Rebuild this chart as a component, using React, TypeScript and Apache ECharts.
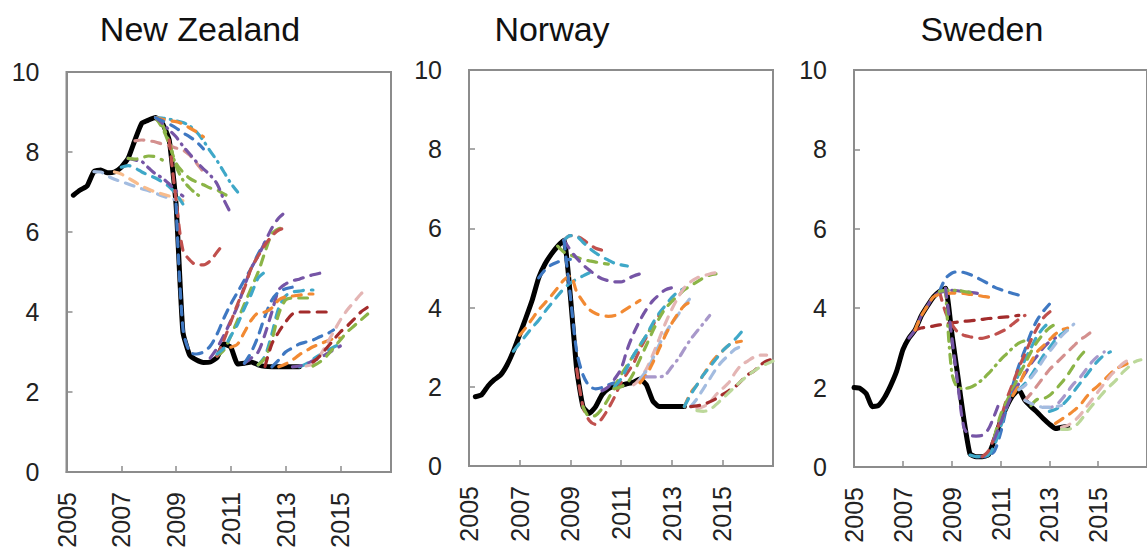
import React, { useEffect, useRef } from "react";
import * as echarts from "echarts";

// ---------------- DATA ----------------
const panelTitles = ["New Zealand", "Norway", "Sweden"];
const yearTicks = [2005, 2007, 2009, 2011, 2013, 2015];

// Actual policy rates (quarterly, starting at *From)
const nzActualFrom = 2005.25;
const nzActual = [6.92, 7.05, 7.15, 7.51, 7.55, 7.48, 7.5, 7.62, 7.84, 8.3, 8.72, 8.8, 8.86, 8.72, 8.3, 6.7, 3.5, 2.92, 2.8, 2.74, 2.75, 2.86, 3.2, 3.12, 2.7, 2.72, 2.75, 2.68, 2.64, 2.63, 2.63, 2.63, 2.63, 2.63];

const noActualFrom = 2005.25;
const noActual = [1.75, 1.8, 2.02, 2.18, 2.3, 2.55, 2.9, 3.32, 3.75, 4.2, 4.75, 5.1, 5.35, 5.55, 5.7, 4.3, 2.45, 1.5, 1.33, 1.5, 1.8, 1.95, 2.02, 2.04, 2.08, 2.12, 2.2, 2.05, 1.65, 1.5, 1.5, 1.5, 1.5, 1.5];

const seActualFrom = 2005.0;
const seActual = [2.0, 1.98, 1.85, 1.52, 1.55, 1.75, 2.05, 2.42, 2.95, 3.25, 3.45, 3.8, 4.05, 4.28, 4.42, 4.5, 3.4, 2.3, 1.2, 0.33, 0.26, 0.26, 0.3, 0.68, 1.15, 1.52, 1.8, 1.95, 1.68, 1.52, 1.38, 1.22, 1.08, 0.97, 1.0, 1.02];

// Forecast paths (quarterly values from 'from')
const nzForecasts = [
  { from: 2006.0, values: [7.51, 7.5, 7.4, 7.32, 7.26, 7.2, 7.14, 7.08, 7.03, 6.97, 6.9, 6.85, 6.8] },
  { from: 2006.75, values: [7.5, 7.45, 7.35, 7.25, 7.15, 7.07, 7.0, 6.95, 6.9, 6.85, 6.78] },
  { from: 2007.0, values: [7.62, 7.66, 7.6, 7.5, 7.42, 7.35, 7.25, 7.13, 6.95, 6.7] },
  { from: 2007.25, values: [7.84, 7.8, 7.76, 7.6, 7.45, 7.35, 7.2, 7.03, 6.9] },
  { from: 2007.25, values: [7.84, 7.82, 7.86, 7.9, 7.88, 7.8] },
  { from: 2007.5, values: [8.28, 8.3, 8.28, 8.25, 8.2, 8.16, 8.1, 8.05, 7.92, 7.72, 7.5] },
  { from: 2008.25, values: [8.86, 8.6, 8.2, 7.72, 7.5, 7.34, 7.25, 7.18, 7.1, 7.05, 6.95, 6.87] },
  { from: 2008.5, values: [8.7, 8.25, 7.65, 7.3, 7.1, 6.95, 6.84] },
  { from: 2008.25, values: [8.86, 8.72, 8.55, 8.38, 8.15, 7.95, 7.75, 7.58, 7.42, 7.2, 6.8, 6.47] },
  { from: 2008.25, values: [8.86, 8.85, 8.82, 8.78, 8.74, 8.65, 8.5, 8.28, 8.02, 7.78, 7.5, 7.22, 7.0] },
  { from: 2008.25, values: [8.86, 8.82, 8.78, 8.76, 8.7, 8.6, 8.5, 8.38] },
  { from: 2008.25, values: [8.86, 8.78, 8.7, 8.6, 8.48, 8.38, 8.25, 8.08] },
  { from: 2008.75, values: [8.3, 6.8, 5.55, 5.3, 5.18, 5.18, 5.28, 5.5, 5.72] },
  { from: 2009.0, values: [6.7, 3.6, 3.0, 2.95, 3.0, 3.15, 3.45, 3.85, 4.2, 4.5, 4.8, 5.1, 5.45, 5.75] },
  { from: 2010.25, values: [2.85, 3.1, 3.42, 3.78, 4.15, 4.65, 5.1, 5.4, 5.75, 6.1, 6.35, 6.5] },
  { from: 2010.5, values: [2.9, 3.05, 3.4, 3.8, 4.2, 4.6, 5.0, 5.5, 5.95, 6.08, 6.1] },
  { from: 2010.5, values: [2.9, 3.3, 3.75, 4.2, 4.6, 5.1, 5.4, 5.68, 5.9, 6.05, 6.1] },
  { from: 2010.5, values: [2.95, 3.1, 3.4, 3.7, 4.1, 4.45, 4.85, 5.0] },
  { from: 2011.5, values: [2.72, 2.85, 3.0, 3.45, 4.0, 4.55, 4.7, 4.78, 4.82, 4.88, 4.93, 4.97] },
  { from: 2011.5, values: [2.72, 3.0, 3.4, 3.9, 4.3, 4.5, 4.58, 4.62, 4.63] },
  { from: 2012.0, values: [2.68, 2.9, 3.45, 4.1, 4.4, 4.5, 4.52, 4.55, 4.55] },
  { from: 2012.0, values: [2.68, 2.85, 3.3, 3.95, 4.3, 4.35, 4.35, 4.35, 4.35] },
  { from: 2011.0, values: [3.12, 3.2, 3.5, 3.8, 3.98, 4.0, 4.1, 4.3, 4.38, 4.4, 4.42, 4.45, 4.45] },
  { from: 2012.25, values: [2.64, 3.2, 3.5, 3.75, 3.95, 4.0, 4.0, 4.0, 4.0, 4.0, 4.0] },
  { from: 2012.5, values: [2.63, 2.8, 3.0, 3.1, 3.2, 3.25, 3.3, 3.38, 3.45, 3.55] },
  { from: 2012.75, values: [2.63, 2.7, 2.8, 2.93, 3.03, 3.13, 3.2, 3.27, 3.33, 3.35] },
  { from: 2013.5, values: [2.63, 2.7, 2.82, 2.93, 3.03, 3.12, 3.2] },
  { from: 2013.25, values: [2.63, 2.65, 2.7, 2.78, 2.85, 2.95, 3.05, 3.15] },
  { from: 2013.75, values: [2.65, 2.7, 2.9, 3.2, 3.5, 3.8, 4.05, 4.25, 4.45, 4.6] },
  { from: 2014.0, values: [2.75, 2.9, 3.1, 3.3, 3.5, 3.65, 3.82, 4.0, 4.12] },
  { from: 2014.0, values: [2.65, 2.75, 2.9, 3.1, 3.3, 3.5, 3.65, 3.8, 3.95] },
];
const nzHues = ["lblue", "lorange", "cyan", "purple", "green", "salmon", "green", "green", "purple", "cyan", "orange", "blue", "red", "blue", "purple", "green", "red", "cyan", "purple", "blue", "cyan", "green", "orange", "darkred", "blue", "orange", "cyan", "purple", "lpink", "darkred", "green"];
const nzDashDot = [3, 7, 8, 9];

const noForecasts = [
  { from: 2006.75, values: [2.9, 3.1, 3.3, 3.5, 3.68, 3.9, 4.1, 4.3, 4.48, 4.62, 4.72, 4.8, 4.88] },
  { from: 2007.0, values: [3.3, 3.5, 3.72, 3.94, 4.12, 4.3, 4.5, 4.7, 4.8, 4.4, 4.15, 3.95, 3.85, 3.8, 3.78, 3.8, 3.88, 3.98, 4.08, 4.18] },
  { from: 2007.75, values: [4.75, 4.95, 5.08, 5.15, 5.2, 5.22] },
  { from: 2008.5, values: [5.55, 5.4, 5.33, 5.27, 5.22, 5.18, 5.15, 5.12, 5.1] },
  { from: 2008.75, values: [5.7, 5.45, 5.25, 5.08, 4.95, 4.82, 4.73, 4.68, 4.65, 4.65, 4.72, 4.8, 4.85] },
  { from: 2008.75, values: [5.7, 5.82, 5.8, 5.72, 5.6, 5.5, 5.45, 5.4] },
  { from: 2008.75, values: [5.7, 5.82, 5.8, 5.65, 5.5, 5.38, 5.28, 5.2, 5.12, 5.08, 5.05] },
  { from: 2008.75, values: [5.7, 4.3, 2.9, 2.3, 2.02, 1.95, 1.98, 2.05, 2.1] },
  { from: 2009.25, values: [2.45, 1.5, 1.15, 1.05, 1.2, 1.45, 1.75, 2.1, 2.35, 2.6, 2.95, 3.25, 3.55, 3.8] },
  { from: 2009.5, values: [1.5, 1.25, 1.28, 1.45, 1.7, 2.0, 2.3, 2.55, 2.8, 3.05, 3.3, 3.55] },
  { from: 2010.25, values: [1.9, 2.0, 2.2, 2.45, 2.95, 3.35, 3.68, 3.95, 4.17, 4.32, 4.45, 4.5] },
  { from: 2010.75, values: [2.0, 2.2, 2.5, 2.8, 3.05, 3.3, 3.6, 3.85, 4.05, 4.25, 4.4, 4.48] },
  { from: 2010.75, values: [1.95, 2.0, 2.1, 2.35, 2.7, 3.05, 3.4, 3.72, 3.98, 4.15, 4.3, 4.45, 4.55, 4.65, 4.75, 4.82, 4.85] },
  { from: 2011.5, values: [2.05, 2.2, 2.45, 2.8, 3.2, 3.6, 3.95, 4.25, 4.5, 4.65, 4.75, 4.8, 4.85, 4.88] },
  { from: 2011.75, values: [2.2, 2.4, 2.7, 3.05, 3.35, 3.6, 3.82, 4.05, 4.25] },
  { from: 2011.75, values: [2.1, 2.3, 2.6, 2.95, 3.3, 3.6, 3.85, 4.05, 4.15] },
  { from: 2012.0, values: [2.25, 2.25, 2.25, 2.3, 2.5, 2.7, 2.95, 3.2, 3.4, 3.6, 3.8] },
  { from: 2013.5, values: [1.5, 1.85, 2.05, 2.3, 2.55, 2.75, 2.9, 3.05, 3.12, 3.15] },
  { from: 2013.5, values: [1.5, 1.8, 2.05, 2.3, 2.5, 2.7, 2.9, 3.05, 3.2, 3.38] },
  { from: 2013.75, values: [1.5, 1.7, 1.95, 2.2, 2.45, 2.65, 2.8, 2.95, 3.02] },
  { from: 2014.0, values: [1.45, 1.5, 1.6, 1.8, 1.95, 2.1, 2.35, 2.55, 2.65, 2.75, 2.8, 2.8] },
  { from: 2013.75, values: [1.5, 1.52, 1.55, 1.62, 1.7, 1.8, 1.9, 2.0, 2.15, 2.3, 2.4, 2.55, 2.65, 2.7] },
  { from: 2014.0, values: [1.4, 1.38, 1.42, 1.55, 1.7, 1.85, 2.0, 2.15, 2.28, 2.4, 2.5, 2.58, 2.65] },
];
const noHues = ["cyan", "orange", "blue", "green", "purple", "red", "cyan", "blue", "red", "green", "purple", "cyan", "green", "lpink", "lblue", "orange", "lpurple", "orange", "cyan", "lblue", "lpink", "darkred", "lgreen"];
const noDashDot = [16];

const seForecasts = [
  { from: 2007.5, values: [3.45, 3.5, 3.52, 3.55, 3.58, 3.6, 3.63, 3.65, 3.67, 3.68, 3.7, 3.72, 3.74, 3.75, 3.77, 3.78, 3.8, 3.82] },
  { from: 2008.5, values: [4.42, 3.9, 3.6, 3.4, 3.32, 3.28, 3.25, 3.24, 3.28, 3.33, 3.4, 3.48, 3.6, 3.72, 3.82] },
  { from: 2008.5, values: [4.42, 4.75, 4.88, 4.92, 4.9, 4.85, 4.78, 4.7, 4.62, 4.53, 4.47, 4.42, 4.37, 4.33] },
  { from: 2007.25, values: [3.25, 3.45, 3.8, 4.05, 4.28, 4.4, 4.42, 4.45, 4.44, 4.42, 4.4, 4.38, 4.35] },
  { from: 2007.5, values: [3.45, 3.8, 4.05, 4.28, 4.35, 4.37, 4.38, 4.38, 4.37, 4.35, 4.33, 4.3, 4.28, 4.25] },
  { from: 2008.5, values: [4.42, 4.45, 4.45, 4.45, 4.42, 4.4, 4.38] },
  { from: 2008.75, values: [4.5, 2.4, 2.0, 1.98, 2.0, 2.08, 2.2, 2.35, 2.52, 2.7, 2.85, 3.0, 3.12, 3.18] },
  { from: 2008.75, values: [4.5, 3.3, 2.1, 1.0, 0.8, 0.78, 0.8, 0.95, 1.3, 1.7] },
  { from: 2010.0, values: [0.26, 0.26, 0.28, 0.4, 0.85, 1.5, 2.05, 2.55, 2.95, 3.38, 3.7, 3.92, 4.1] },
  { from: 2009.75, values: [0.3, 0.26, 0.26, 0.3, 0.55, 1.0, 1.5, 1.95, 2.35, 2.7, 3.0, 3.3, 3.5, 3.65] },
  { from: 2010.25, values: [0.26, 0.4, 0.75, 1.2, 1.7, 2.1, 2.5, 2.85, 3.2, 3.5, 3.75, 3.9, 3.98] },
  { from: 2010.75, values: [0.75, 1.3, 1.65, 1.95, 2.3, 2.6, 2.9, 3.15, 3.35, 3.5, 3.6] },
  { from: 2010.75, values: [0.7, 1.1, 1.5, 1.85, 2.1, 2.35, 2.6, 2.8, 3.0, 3.15, 3.25] },
  { from: 2011.5, values: [1.8, 2.05, 2.4, 2.65, 2.9, 3.05, 3.2, 3.35, 3.45, 3.5] },
  { from: 2011.75, values: [1.95, 2.1, 2.3, 2.55, 2.8, 3.0, 3.2, 3.35, 3.45] },
  { from: 2011.75, values: [1.95, 2.05, 2.25, 2.45, 2.7, 2.9, 3.1, 3.3, 3.45, 3.6] },
  { from: 2012.0, values: [1.68, 1.85, 2.05, 2.25, 2.45, 2.6, 2.75, 2.9, 3.05, 3.2, 3.3, 3.42] },
  { from: 2012.25, values: [1.55, 1.7, 1.72, 1.8, 1.95, 2.12, 2.32, 2.55, 2.78, 2.95] },
  { from: 2012.75, values: [1.5, 1.5, 1.55, 1.7, 1.9, 2.1, 2.25, 2.45, 2.65, 2.8, 2.9] },
  { from: 2013.0, values: [1.4, 1.45, 1.55, 1.7, 1.9, 2.1, 2.3, 2.5, 2.68, 2.82, 2.9] },
  { from: 2013.25, values: [1.1, 1.2, 1.3, 1.42, 1.55, 1.75, 1.92, 2.05, 2.2, 2.35, 2.48, 2.55, 2.62] },
  { from: 2013.5, values: [1.0, 1.05, 1.15, 1.3, 1.5, 1.7, 1.9, 2.1, 2.3, 2.45, 2.6, 2.7] },
  { from: 2013.5, values: [0.95, 0.95, 1.0, 1.15, 1.35, 1.55, 1.72, 1.9, 2.05, 2.2, 2.38, 2.52, 2.65, 2.7] },
  { from: 2012.0, values: [1.68, 1.6, 1.55, 1.5, 1.5, 1.52, 1.55] },
];
const seHues = ["darkred", "red", "blue", "purple", "orange", "green", "green", "purple", "blue", "cyan", "red", "green", "purple", "orange", "cyan", "lblue", "salmon", "green", "lpurple", "cyan", "orange", "lpink", "lgreen", "lblue"];
const seDashDot = [5, 6];

// ---------------- STYLE ----------------
const PALETTE: Record<string, string> = {
  blue: "#3F78C2",
  red: "#C0504D",
  darkred: "#A32C2C",
  green: "#8BB447",
  purple: "#7655A6",
  cyan: "#3FA8C8",
  orange: "#F28A33",
  lblue: "#A3BCE0",
  lorange: "#F8BC8C",
  lpink: "#E4B5B4",
  salmon: "#D4908E",
  lgreen: "#BCD89A",
  lpurple: "#A898CA",
};

const GRIDS = [
  { left: 66.5, top: 72, width: 324.5, height: 400, max: 2016.85, titleX: 200 },
  { left: 469, top: 70, width: 304, height: 396, max: 2017, titleX: 552 },
  { left: 854, top: 70, width: 304, height: 397, max: 2017, titleX: 982 },
];

const FONT = "'Liberation Sans', Arial, sans-serif";
const AXIS_COLOR = "#8c8c8c";

function toPoints(from: number, values: number[]) {
  return values.map((v, i) => [from + i * 0.25, v]);
}

export default function App() {
  const ref = useRef<HTMLDivElement>(null);
  useEffect(() => {
    if (!ref.current) return;
    const chart = echarts.init(ref.current, undefined, { renderer: "svg" });

    const panels = [
      { actualFrom: nzActualFrom, actual: nzActual, forecasts: nzForecasts, hues: nzHues, dd: nzDashDot },
      { actualFrom: noActualFrom, actual: noActual, forecasts: noForecasts, hues: noHues, dd: noDashDot },
      { actualFrom: seActualFrom, actual: seActual, forecasts: seForecasts, hues: seHues, dd: seDashDot },
    ];

    const series: any[] = [];
    panels.forEach((p, g) => {
      series.push({
        type: "line",
        xAxisIndex: g,
        yAxisIndex: g,
        data: toPoints(p.actualFrom, p.actual),
        showSymbol: false,
        symbol: "none",
        smooth: 0.15,
        lineStyle: { color: "#000", width: 5, cap: "round", join: "round" },
        z: 2,
        silent: true,
      });
      p.forecasts.forEach((f, i) => {
        series.push({
          type: "line",
          xAxisIndex: g,
          yAxisIndex: g,
          data: toPoints(f.from, f.values),
          showSymbol: false,
          symbol: "none",
          smooth: 0.3,
          lineStyle: {
            color: PALETTE[p.hues[i]],
            width: 3.2,
            type: p.dd.includes(i) ? [9, 6, 1, 6] : [9, 8],
            cap: "round",
          },
          z: 3,
          silent: true,
        });
      });
    });

    const option: any = {
      animation: false,
      title: panelTitles.map((t, i) => ({
        text: t,
        left: GRIDS[i].titleX,
        top: 12,
        textAlign: "center",
        padding: 0,
        textStyle: { fontSize: 34, fontWeight: "normal", color: "#111", fontFamily: FONT },
      })),
      grid: GRIDS.map((g) => ({
        left: g.left,
        top: g.top,
        width: g.width,
        height: g.height,
        show: true,
        borderColor: AXIS_COLOR,
        borderWidth: 2,
        containLabel: false,
      })),
      xAxis: GRIDS.map((g, i) => ({
        type: "value",
        gridIndex: i,
        min: 2005,
        max: g.max,
        interval: 2,
        splitLine: { show: false },
        axisLine: { show: true, lineStyle: { color: AXIS_COLOR, width: 2 } },
        axisTick: { show: true, inside: true, length: 6, lineStyle: { color: AXIS_COLOR, width: 1.5 } },
        axisLabel: {
          rotate: 90,
          margin: 20,
          fontSize: 25,
          color: "#222",
          fontFamily: FONT,
          showMaxLabel: false,
          formatter: (v: number) => (yearTicks.includes(Math.round(v * 100) / 100) ? String(v) : ""),
        },
      })),
      yAxis: GRIDS.map((g, i) => ({
        type: "value",
        gridIndex: i,
        min: 0,
        max: 10,
        interval: 2,
        splitLine: { show: false },
        axisLine: { show: true, lineStyle: { color: AXIS_COLOR, width: 2 } },
        axisTick: { show: true, inside: true, length: 6, lineStyle: { color: AXIS_COLOR, width: 1.5 } },
        axisLabel: { margin: 27, fontSize: 25, color: "#222", fontFamily: FONT },
      })),
      series,
    };
    chart.setOption(option);
    return () => chart.dispose();
  }, []);

  return (
    <div
      ref={ref}
      style={{ position: "fixed", left: 0, top: 0, width: 1147, height: 554, background: "#fff" }}
    />
  );
}
